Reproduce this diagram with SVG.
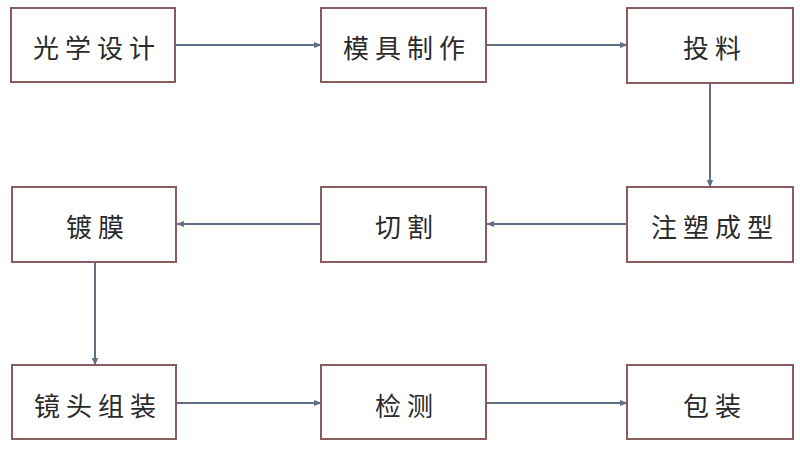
<svg xmlns="http://www.w3.org/2000/svg" width="800" height="456" viewBox="0 0 800 456">
<defs>
<style>
.box{fill:#fff;stroke:#8a5c60;stroke-width:2}
.t{font-family:"Noto Sans CJK SC","Noto Sans CJK JP",sans-serif;font-size:26px;fill:#2a2a2a;text-anchor:middle;dominant-baseline:central;letter-spacing:6px}
.c{stroke:#5f6f85;stroke-width:2;fill:none;marker-end:url(#ah)}
</style>
<marker id="ah" viewBox="0 0 10 10" refX="9" refY="5" markerWidth="4" markerHeight="4" orient="auto"><path d="M0,1 L10,5 L0,9 z" fill="#5f6f85"/></marker>
</defs>
<rect width="800" height="456" fill="#fff"/>
<g id="connectors">
<line class="c" x1="175" y1="45" x2="321" y2="45"/>
<line class="c" x1="486" y1="45" x2="627" y2="45"/>
<line class="c" x1="710" y1="83" x2="710" y2="187"/>
<line class="c" x1="627" y1="224" x2="487" y2="224"/>
<line class="c" x1="321" y1="224" x2="177" y2="224"/>
<line class="c" x1="95" y1="262" x2="95" y2="365"/>
<line class="c" x1="176" y1="403" x2="321" y2="403"/>
<line class="c" x1="486" y1="403" x2="627" y2="403"/>
</g>
<g id="n1"><rect class="box" x="11" y="8" width="164" height="74"/><text class="t" x="97" y="46">光学设计</text></g>
<g id="n2"><rect class="box" x="321" y="8" width="165" height="74"/><text class="t" x="407" y="46">模具制作</text></g>
<g id="n3"><rect class="box" x="627" y="8" width="166" height="75"/><text class="t" x="715" y="46">投料</text></g>
<g id="n4"><rect class="box" x="627" y="187" width="166" height="75"/><text class="t" x="715" y="225">注塑成型</text></g>
<g id="n5"><rect class="box" x="321" y="187" width="165" height="75"/><text class="t" x="407" y="225">切割</text></g>
<g id="n6"><rect class="box" x="12" y="187" width="164" height="75"/><text class="t" x="98" y="225">镀膜</text></g>
<g id="n7"><rect class="box" x="12" y="365" width="164" height="74"/><text class="t" x="98" y="404">镜头组装</text></g>
<g id="n8"><rect class="box" x="321" y="365" width="165" height="74"/><text class="t" x="407" y="404">检测</text></g>
<g id="n9"><rect class="box" x="627" y="365" width="166" height="74"/><text class="t" x="715" y="404">包装</text></g>
</svg>
